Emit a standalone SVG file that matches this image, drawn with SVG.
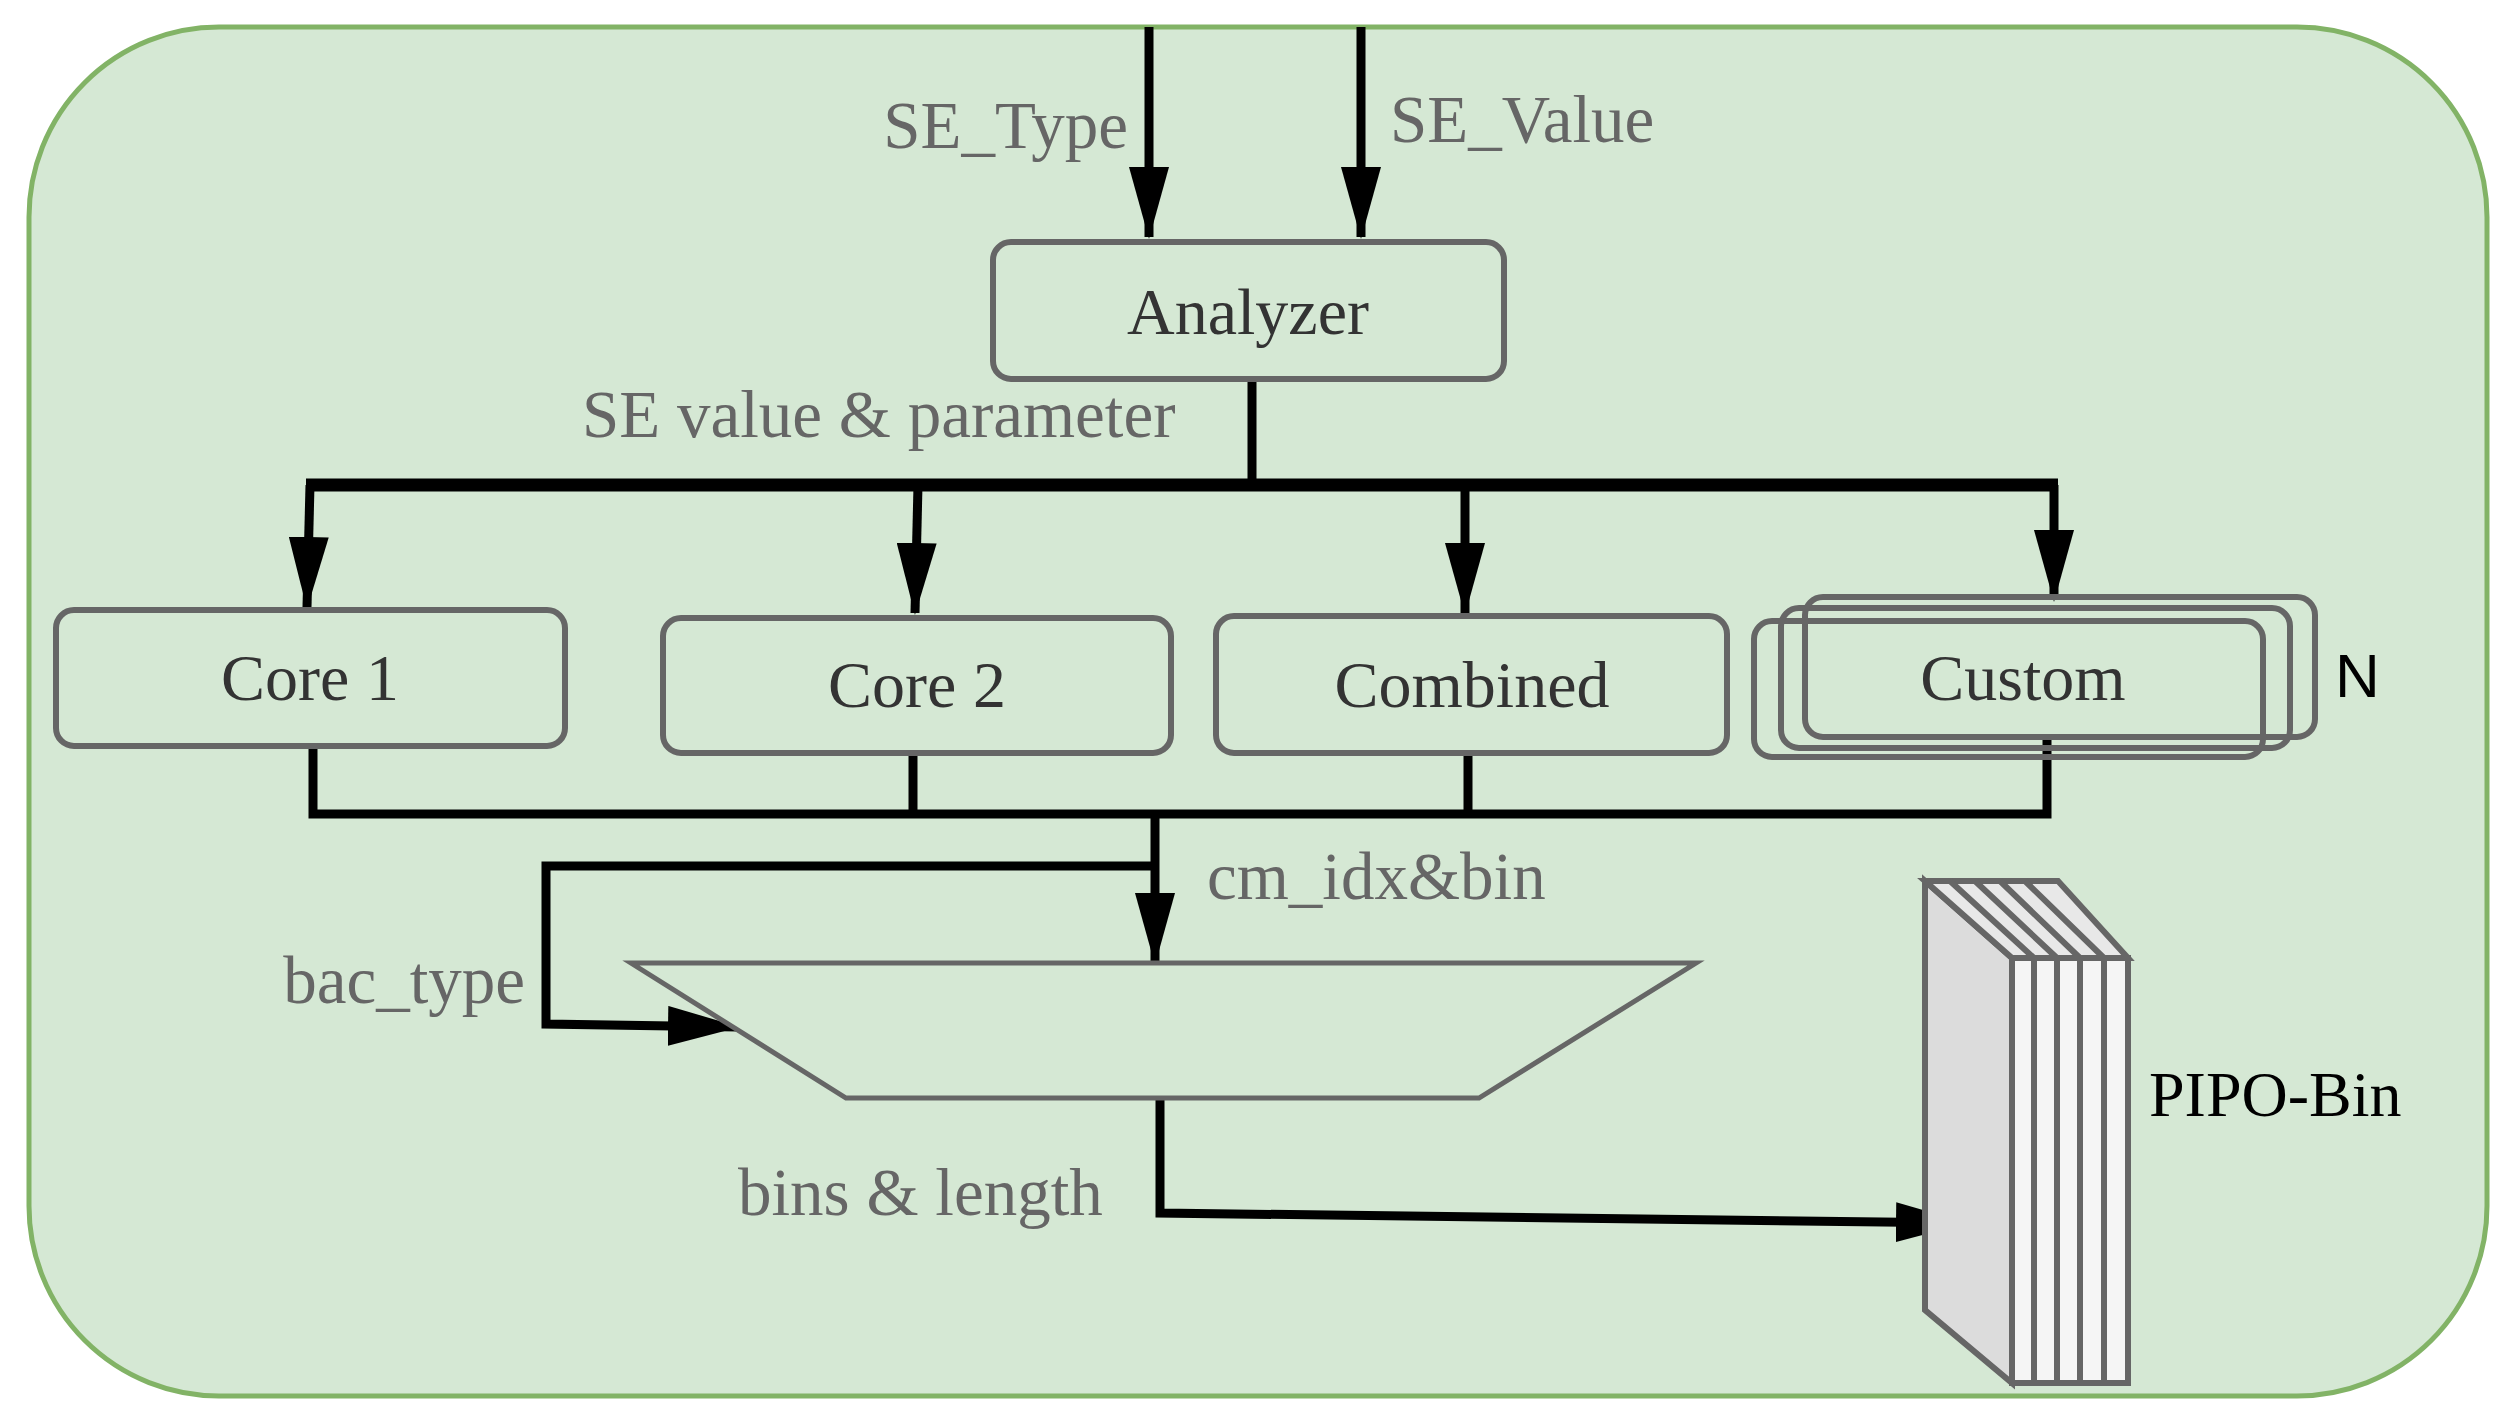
<svg xmlns="http://www.w3.org/2000/svg" width="2516" height="1423" viewBox="0 0 2516 1423">
<defs>
<marker id="ah" markerUnits="userSpaceOnUse" markerWidth="72" markerHeight="40" refX="70" refY="20" orient="auto"><path d="M0,0 L72,20 L0,40 Z" fill="#000"/></marker>
</defs>
<style>
.box{fill:#d5e8d4;stroke:#666;stroke-width:6}
.t{font-family:"Liberation Serif",serif;font-size:66px;fill:#333}
.l{font-family:"Liberation Serif",serif;font-size:67px;fill:#666}
.w{fill:none;stroke:#000;stroke-width:9}
.p{stroke:#666;stroke-width:6}
</style>
<rect x="29" y="27" width="2458" height="1369" rx="190" fill="#d5e8d4" stroke="#82b366" stroke-width="5"/>
<g id="connectors">
<path class="w" d="M1149,27 V237" marker-end="url(#ah)"/>
<path class="w" d="M1361,27 V237" marker-end="url(#ah)"/>
<path class="w" d="M1252,379 V485"/>
<path class="w" style="stroke-width:13" d="M306,485 H2058"/>
<path class="w" d="M310,485 L307,607" marker-end="url(#ah)"/>
<path class="w" d="M918,485 L915,613" marker-end="url(#ah)"/>
<path class="w" d="M1465,485 V613" marker-end="url(#ah)"/>
<path class="w" d="M2054,485 V600" marker-end="url(#ah)"/>
<path class="w" d="M313,746 V814 H2047 V740"/>
<path class="w" d="M913,753 V814"/>
<path class="w" d="M1468,753 V814"/>
<path class="w" d="M1155,814 V963" marker-end="url(#ah)"/>
<path class="w" d="M1155,866 H546 V1024 L738,1027" marker-end="url(#ah)"/>
<path class="w" d="M1160,1098 V1213 L1966,1223" marker-end="url(#ah)"/>
</g>
<text class="l" x="1128" y="148" text-anchor="end">SE_Type</text>
<text class="l" x="1390" y="142">SE_Value</text>
<text class="l" x="582" y="437">SE value &amp; parameter</text>
<text class="l" x="1207" y="899">cm_idx&amp;bin</text>
<text class="l" x="525" y="1003" text-anchor="end">bac_type</text>
<text class="l" x="738" y="1215">bins &amp; length</text>
<g id="analyzer"><rect class="box" x="993" y="242" width="511" height="137" rx="18"/><text class="t" x="1248" y="334" text-anchor="middle">Analyzer</text></g>
<g id="core1"><rect class="box" x="56" y="610" width="509" height="136" rx="18"/><text class="t" x="310" y="700" text-anchor="middle">Core 1</text></g>
<g id="core2"><rect class="box" x="663" y="618" width="508" height="135" rx="18"/><text class="t" x="917" y="707" text-anchor="middle">Core 2</text></g>
<g id="combined"><rect class="box" x="1216" y="616" width="511" height="137" rx="18"/><text class="t" x="1472" y="707" text-anchor="middle">Combined</text></g>
<g id="custom">
<rect class="box" style="fill:none" x="1754" y="621" width="509" height="136" rx="18"/>
<rect class="box" style="fill:none" x="1781" y="608" width="509" height="140" rx="18"/>
<rect class="box" style="fill:none" x="1805" y="597" width="510" height="140" rx="18"/>
<text class="t" x="2023" y="700" text-anchor="middle">Custom</text>
<text x="2335" y="697" style="font-family:'Liberation Sans',sans-serif;font-size:62px;fill:#000">N</text>
</g>
<g id="mux"><polygon points="631,963 1696,963 1479,1098 846,1098" fill="#d5e8d4" stroke="#666" stroke-width="5"/></g>
<g id="pipo">
<polygon class="p" points="1925,881 2012,958 2012,1383 1925,1310" fill="#dcdcdc"/>
<polygon class="p" points="1925,881 2058,881 2128,958 2012,958" fill="#e8e8e8"/>
<path class="p" fill="none" d="M1950,881 L2034,958 M1975,881 L2057,958 M2000,881 L2080,958 M2025,881 L2104,958"/>
<rect class="p" x="2012" y="958" width="116" height="425" fill="#f5f5f5"/>
<path class="p" d="M2034,958 V1383 M2057,958 V1383 M2080,958 V1383 M2104,958 V1383"/>
<text x="2149" y="1116" style="font-family:'Liberation Serif',serif;font-size:64px;fill:#000">PIPO-Bin</text>
</g>
</svg>
